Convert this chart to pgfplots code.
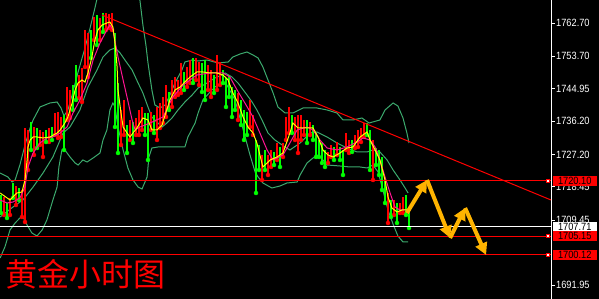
\documentclass[border=0pt]{standalone}
\usepackage{pgfplots}
\pgfplotsset{compat=1.18}
\usepackage{pgfplotstable}
\usepackage{fontspec}
\setmainfont{Liberation Sans}
\newfontfamily\axisfont[FakeStretch=0.88]{Liberation Sans}
\newfontfamily\cjk{Noto Sans CJK SC}
\usetikzlibrary{backgrounds,arrows.meta}
\definecolor{bandgreen}{RGB}{60,170,110}
\definecolor{mapink}{RGB}{255,20,147}
\definecolor{arrowgold}{RGB}{255,180,0}
\definecolor{cgreen}{RGB}{0,255,0}
\definecolor{cred}{RGB}{255,0,0}
\definecolor{cyell}{RGB}{255,255,0}

\pgfplotstableread{
x lo hi
1 1710.85 1715.71
3 1710.85 1715.44
5 1713.55 1718.68
7 1710.31 1717.60
8 1708.96 1734.34
9 1723.00 1733.80
11 1727.05 1734.61
13 1729.75 1733.80
14 1726.51 1733.26
16 1730.56 1734.34
18 1732.45 1738.39
19 1731.64 1738.66
20 1731.91 1737.31
22 1736.50 1745.41
23 1737.04 1744.60
26 1742.44 1748.65
27 1741.36 1750.54
28 1750.81 1760.80
29 1748.11 1759.99
31 1758.10 1764.31
33 1758.10 1764.04
35 1760.80 1765.39
36 1761.34 1765.12
37 1760.80 1765.39
40 1729.75 1739.20
41 1732.45 1741.90
43 1731.10 1736.50
45 1732.45 1737.04
46 1732.45 1739.20
47 1733.80 1740.01
50 1733.80 1738.66
52 1731.10 1740.01
53 1734.34 1741.09
54 1735.69 1742.71
55 1737.31 1745.95
57 1740.01 1747.30
58 1742.71 1748.11
59 1743.25 1747.30
60 1743.79 1751.89
62 1745.41 1750.81
63 1746.49 1752.70
65 1747.30 1753.24
66 1745.95 1752.16
69 1744.60 1751.35
70 1742.71 1750.00
72 1744.60 1754.05
73 1745.95 1752.16
79 1736.50 1743.79
83 1734.61 1741.90
84 1732.45 1737.85
87 1720.30 1727.05
89 1721.65 1727.05
90 1723.81 1728.40
92 1725.70 1730.29
94 1726.51 1730.29
95 1731.10 1737.31
96 1732.99 1740.01
98 1731.10 1737.31
99 1727.59 1737.85
100 1731.10 1737.85
101 1732.45 1736.50
103 1732.45 1735.96
109 1724.89 1727.86
110 1726.51 1729.75
112 1727.05 1730.56
115 1728.40 1732.99
116 1727.59 1731.10
118 1728.94 1732.45
119 1729.21 1733.80
120 1730.56 1734.34
121 1731.91 1735.69
124 1720.30 1731.10
129 1708.69 1716.79
131 1710.85 1714.90
133 1711.39 1714.09
134 1711.39 1715.71
}\redcandles

\pgfplotstableread{
x lo hi
0 1711.39 1716.25
2 1710.04 1714.09
4 1715.44 1719.49
6 1714.90 1718.14
10 1728.40 1735.96
12 1728.94 1734.34
15 1730.56 1733.80
17 1731.10 1734.61
21 1728.40 1737.85
24 1739.20 1745.95
25 1741.90 1751.35
30 1753.24 1760.80
32 1756.75 1764.85
34 1760.26 1765.39
38 1734.61 1759.99
39 1727.59 1746.49
42 1727.59 1735.15
44 1730.29 1735.96
48 1732.45 1738.39
49 1725.70 1738.39
51 1732.99 1737.85
56 1739.20 1744.06
61 1744.60 1749.46
64 1746.49 1753.24
67 1744.06 1751.89
68 1741.90 1752.70
71 1743.79 1748.65
74 1746.49 1750.00
75 1740.01 1747.84
76 1742.71 1748.65
77 1737.31 1745.41
78 1739.20 1744.60
80 1735.15 1741.90
81 1731.10 1739.20
82 1732.45 1738.66
85 1716.79 1731.10
86 1723.00 1729.75
88 1723.00 1728.40
91 1724.35 1727.86
93 1723.81 1729.21
97 1732.99 1737.85
102 1730.29 1736.50
104 1731.10 1735.15
105 1726.51 1732.99
106 1726.51 1731.10
107 1724.89 1730.29
108 1723.81 1728.40
111 1725.70 1729.21
113 1725.70 1729.21
114 1721.65 1728.40
117 1727.86 1731.10
122 1732.45 1735.69
123 1723.00 1733.80
125 1724.35 1728.94
126 1721.65 1728.40
127 1717.60 1726.51
128 1714.09 1720.30
130 1710.31 1714.90
132 1708.69 1714.09
135 1710.85 1716.25
136 1707.34 1713.01
}\greencandles

\begin{document}
\begin{tikzpicture}
\useasboundingbox (0,0) rectangle (599pt,299pt);
\begin{axis}[
  at={(0,0)}, anchor=south west,
  scale only axis, width=551pt, height=299pt,
  xmin=-0.333, xmax=183.333, ymin=1688.17, ymax=1768.9,
  axis x line=none,
  axis y line=right,
  axis line style={white, line width=0.8pt, -},
  ytick={1691.95,1709.45,1718.45,1727.20,1736.20,1744.95,1753.70,1762.70},
  yticklabels={1691.95,1709.45,1718.45,1727.20,1736.20,1744.95,1753.70,1762.70},
  tick align=outside, major tick length=3.5pt,
  y tick style={white, line width=0.8pt},
  yticklabel style={white, font=\axisfont\fontsize{10.5}{11}\selectfont, inner sep=1.5pt},
  clip mode=individual,
]
% Bollinger bands
\addplot[bandgreen, line width=1pt] coordinates {(-0.3,1722.19) (2.3,1721.11) (3.7,1719.76) (4.7,1720.30) (6.3,1724.35) (8,1729.75) (9.7,1734.34) (10.7,1736.50) (13,1740.01) (16.3,1741.09) (18.7,1741.36) (20,1739.74) (21,1737.58) (22.3,1739.20) (23.7,1743.25) (25.7,1749.46) (28,1755.94) (29.7,1761.34) (31.3,1766.74) (32.3,1770.25) (34.7,1775.65) (39.7,1777.0) (44.7,1772.95) (46.3,1768.9) (47.3,1762.15) (48.3,1756.75) (49,1751.89) (50.3,1744.60) (51.3,1740.55) (53,1739.74) (54.7,1740.55) (56.3,1743.25) (58,1746.49) (60.3,1750.00) (61.3,1752.16) (63.7,1752.70) (65.7,1752.43) (68.7,1752.70) (72.3,1751.89) (75.7,1752.16) (77.3,1753.51) (79.7,1754.32) (82,1754.86) (84,1754.05) (85.7,1753.24) (87.3,1750.81) (89,1747.30) (90.7,1743.79) (92.3,1740.01) (94.7,1738.39) (97.3,1738.39) (100.7,1739.74) (105.3,1739.74) (108.7,1739.20) (112,1738.39) (114,1736.50) (117.3,1736.50) (120.3,1737.04) (122.7,1735.69) (126.3,1736.50) (128,1739.20) (130.7,1741.09) (132.3,1740.28) (134,1737.04) (135.3,1732.99) (136,1730.29)};
\addplot[bandgreen, line width=1pt] coordinates {(-0.3,1710.31) (4,1713.01) (7.3,1714.90) (10.7,1718.41) (14,1722.19) (17.3,1726.51) (19.7,1731.10) (20.7,1732.99) (23,1734.61) (26.3,1739.20) (29,1745.41) (32,1750.00) (34,1753.51) (36.3,1755.40) (38,1755.94) (39.7,1754.59) (41.3,1752.70) (43.7,1750.00) (45.7,1746.49) (47.3,1743.79) (49,1740.01) (50.3,1737.31) (52.3,1735.69) (53.7,1734.61) (55.3,1735.69) (57,1737.04) (59,1739.20) (61.3,1741.36) (63.7,1743.25) (65.7,1745.14) (68.7,1746.49) (71.3,1747.84) (73.7,1748.65) (74.7,1749.19) (77,1748.11) (79,1746.49) (82,1743.25) (83.7,1741.36) (85.3,1739.20) (87,1736.50) (89,1732.99) (91.3,1731.10) (94.7,1729.21) (96.3,1728.40) (99.7,1730.29) (103,1732.99) (105.3,1733.26) (108.7,1731.91) (112,1730.29) (115.3,1728.94) (118.7,1727.86) (122,1727.86) (124,1728.40) (126.3,1727.86) (128.7,1725.70) (130.7,1723.00) (133,1720.30) (134.7,1718.14) (135.7,1716.79)};
\addplot[bandgreen, line width=1pt] coordinates {(-0.3,1699.24) (1.3,1702.21) (3,1706.80) (4.7,1708.69) (6.3,1710.04) (7.3,1710.31) (8.7,1708.15) (10.3,1705.99) (12,1705.18) (13.7,1706.80) (15.3,1709.50) (16.3,1712.20) (17.3,1714.90) (18.7,1718.41) (19.3,1723.81) (20.3,1728.40) (21.3,1728.40) (23,1726.51) (24.7,1724.89) (25.7,1724.35) (27.3,1725.70) (28.7,1725.16) (30.7,1726.24) (33,1727.59) (34,1731.10) (35.3,1733.80) (36.3,1739.20) (37.3,1741.09) (38,1740.01) (39,1734.61) (40.7,1728.40) (42.3,1723.54) (44,1720.30) (45.7,1718.41) (47,1717.87) (48.7,1721.11) (49.3,1726.51) (50.3,1728.94) (52.3,1729.21) (55.7,1729.21) (61.3,1729.21) (62.3,1731.91) (64.7,1735.69) (65.7,1738.39) (67.3,1741.90) (69.7,1744.06) (71.3,1745.41) (73.7,1746.49) (75.3,1745.95) (78,1741.90) (80.3,1735.15) (83,1727.05) (84.7,1722.46) (85.7,1721.11) (87.3,1719.49) (90.3,1718.14) (93,1718.68) (95.3,1719.49) (98.7,1719.76) (99.7,1721.65) (102,1724.89) (104,1726.24) (105.7,1727.05) (107.3,1725.70) (108.7,1724.35) (113,1724.08) (116.3,1723.81) (119.7,1723.81) (122,1723.54) (124,1724.35) (125.7,1722.46) (127.3,1717.60) (129,1712.20) (130.7,1708.36) (132.3,1705.18) (134,1703.56) (135.7,1703.56)};
% candles
\addplot[cred, only marks, mark=none, error bars/.cd, y dir=plus, y explicit, error mark=none, error bar style={cred, line width=1.9pt}] table[x=x, y=lo, y error expr=\thisrow{hi}-\thisrow{lo}] {\redcandles};
\addplot[cgreen, only marks, mark=none, error bars/.cd, y dir=plus, y explicit, error mark=none, error bar style={cgreen, line width=1.9pt}] table[x=x, y=lo, y error expr=\thisrow{hi}-\thisrow{lo}] {\greencandles};
% moving averages
\addplot[mapink, line width=1pt] coordinates {(-0.3,1714.90) (2,1714.09) (4,1714.36) (6.3,1715.44) (8,1718.41) (9,1723.81) (10.7,1727.59) (13,1730.29) (15.3,1731.64) (17.3,1731.91) (19.7,1732.99) (22,1734.61) (24,1738.39) (26.3,1741.90) (28.7,1746.49) (30.7,1752.70) (33,1757.29) (35.3,1760.80) (36.3,1762.15) (37.3,1760.80) (39,1753.51) (40.7,1747.30) (42,1742.71) (43.7,1736.50) (44.7,1733.80) (46.3,1734.61) (49.7,1735.69) (54,1737.31) (57.3,1742.71) (60.7,1745.95) (65.3,1748.65) (69.7,1749.19) (74,1749.19) (76.3,1748.11) (78.7,1744.60) (81.3,1741.09) (84,1737.31) (86.3,1732.99) (88.7,1728.40) (90.7,1725.70) (94,1727.05) (96.3,1730.29) (98.7,1733.80) (102,1734.61) (104,1733.80) (106.3,1731.10) (108.7,1728.94) (112,1728.40) (115.3,1729.21) (118.7,1730.56) (120.7,1731.64) (123,1731.10) (124.7,1729.21) (126.3,1725.70) (128,1721.11) (129.7,1716.79) (131.3,1713.01) (133,1712.20) (135.3,1712.20)};
\addplot[cyell, line width=1pt] coordinates {(-0.3,1716.79) (3,1714.90) (5.3,1716.79) (7,1717.06) (8,1720.30) (8.7,1725.70) (9,1729.21) (9.7,1731.10) (10.7,1731.91) (12,1731.91) (14,1731.64) (16.3,1731.91) (18.7,1732.99) (19.7,1733.80) (21.3,1735.69) (22.3,1737.31) (23.7,1741.09) (24.7,1744.60) (25.7,1746.49) (27,1747.30) (28,1746.76) (29,1749.19) (30.3,1753.51) (31.3,1758.10) (32.3,1760.80) (33.7,1762.15) (35.3,1762.69) (36.3,1762.96) (37.3,1761.61) (38,1757.29) (38.7,1750.81) (39,1744.60) (40,1738.39) (40.7,1734.61) (42,1732.99) (43,1731.91) (44,1732.99) (45.3,1734.34) (47.3,1737.04) (49,1736.50) (50.3,1733.80) (52,1733.80) (53.7,1735.15) (54.7,1737.85) (56.3,1741.90) (58,1744.60) (59.7,1745.41) (61.3,1746.76) (63,1748.11) (65.3,1749.46) (67.3,1749.46) (69.7,1749.19) (72,1749.19) (74,1748.65) (75.7,1747.30) (77.3,1743.79) (79,1741.09) (80.7,1737.31) (82.3,1734.61) (84,1732.99) (85.3,1730.29) (86.3,1727.05) (87.3,1723.81) (88.7,1724.89) (89.7,1725.70) (92,1726.51) (94,1727.59) (96.3,1732.99) (97.3,1735.69) (99,1734.34) (100.7,1734.34) (104,1734.34) (105.7,1731.91) (107.3,1728.40) (109,1727.05) (110.7,1726.51) (113,1727.59) (115.3,1728.94) (117.3,1729.21) (119.7,1731.91) (122,1733.26) (123,1731.10) (124.7,1728.40) (126.3,1725.70) (128,1720.30) (129,1715.71) (130.3,1712.74) (132,1711.66) (133.7,1712.20) (135.3,1712.20)};
% horizontal levels
\addplot[cred, line width=0.9pt] coordinates {(-0.333,1720.10) (183.333,1720.10)};
\addplot[white, line width=1.1pt] coordinates {(-0.333,1707.71) (183.333,1707.71)};
\addplot[cred, line width=0.9pt] coordinates {(-0.333,1705.15) (183.333,1705.15)};
\addplot[cred, line width=0.9pt] coordinates {(-0.333,1700.12) (183.333,1700.12)};
\addplot[only marks, mark=square*, mark size=1.6pt, mark options={fill=white, draw=cred, line width=0.5pt}] coordinates {(182.3,1720.10) (182.3,1705.15) (182.3,1700.12)};
% trend line
\addplot[cred, line width=1pt] coordinates {(33.67,1764.85) (183.333,1714.90)};
% forecast arrows
\addplot[arrowgold, line width=4pt, -{Triangle[length=12pt, width=12pt]}] coordinates {(135.3,1711.39) (142,1720.30)};
\addplot[arrowgold, line width=4pt, -{Triangle[length=12pt, width=12pt]}] coordinates {(142,1720.30) (149.7,1704.64)};
\addplot[arrowgold, line width=4pt, -{Triangle[length=12pt, width=12pt]}] coordinates {(149.7,1704.64) (154.7,1712.74)};
\addplot[arrowgold, line width=4pt, -{Triangle[length=12pt, width=12pt]}] coordinates {(154.7,1712.74) (161.7,1700.05)};
% price labels
\node[fill=cred, text=black, anchor=west, minimum width=44pt, minimum height=10pt, inner sep=0pt, font=\axisfont\fontsize{10.5}{11}\selectfont] at (axis cs:183.333,1720.10) [xshift=1.5pt] {1720.10};
\node[fill=white, text=black, anchor=west, minimum width=44pt, minimum height=10pt, inner sep=0pt, font=\axisfont\fontsize{10.5}{11}\selectfont] at (axis cs:183.333,1707.71) [xshift=1.5pt] {1707.71};
\node[fill=cred, text=black, anchor=west, minimum width=44pt, minimum height=10pt, inner sep=0pt, font=\axisfont\fontsize{10.5}{11}\selectfont] at (axis cs:183.333,1705.15) [xshift=1.5pt] {1705.15};
\node[fill=cred, text=black, anchor=west, minimum width=44pt, minimum height=10pt, inner sep=0pt, font=\axisfont\fontsize{10.5}{11}\selectfont] at (axis cs:183.333,1700.12) [xshift=1.5pt] {1700.12};
% title
\node[anchor=west, text=cred, inner sep=0pt, font=\cjk\fontsize{32}{32}\selectfont] at (rel axis cs:0.009,0.084) {黄金小时图};
\end{axis}
\begin{scope}[on background layer]
\fill[black] (0,0) rectangle (599pt,299pt);
\end{scope}
\end{tikzpicture}
\end{document}
